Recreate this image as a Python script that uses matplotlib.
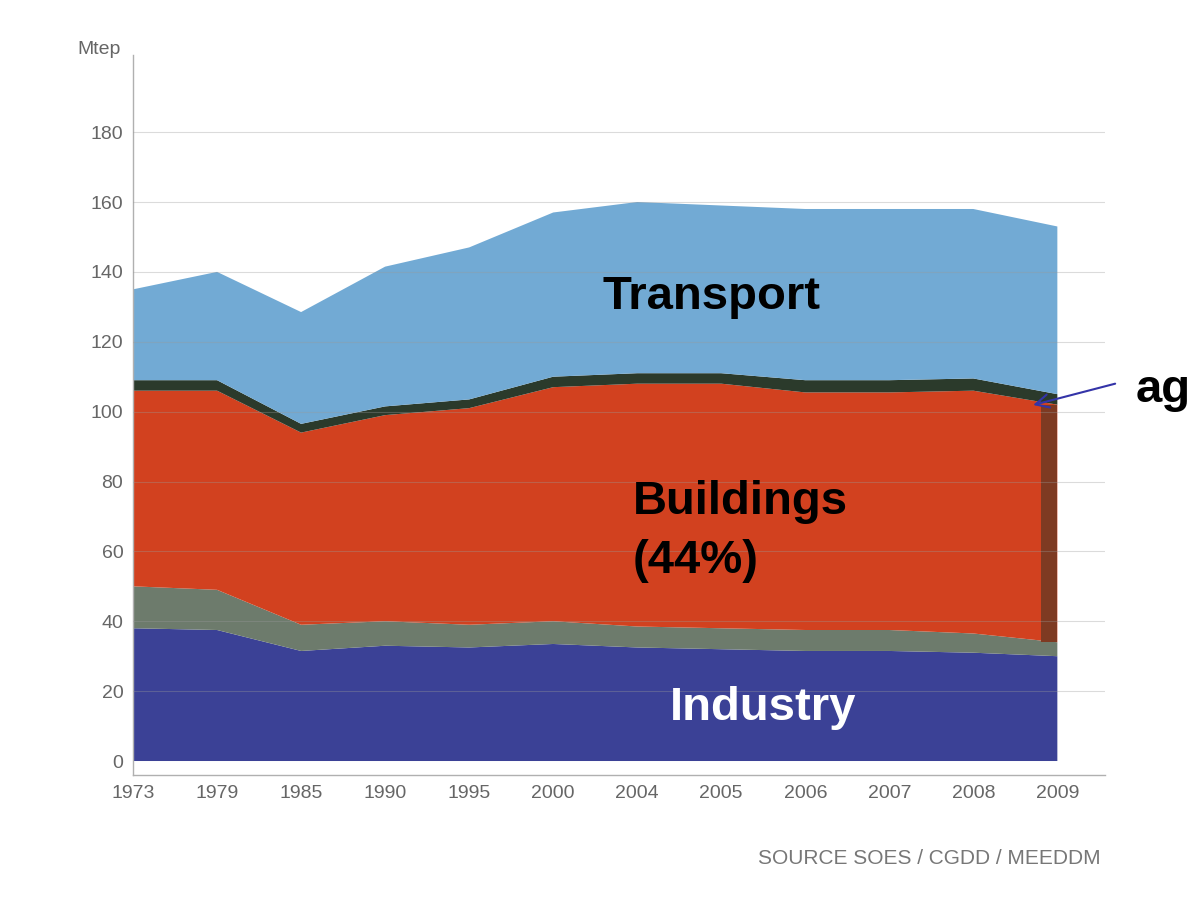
import matplotlib
matplotlib.use("Agg")
import matplotlib.pyplot as plt
import numpy as np

# Final energy consumption by sector, France (Mtep)
years = ['1973', '1979', '1985', '1990', '1995', '2000', '2004', '2005',
         '2006', '2007', '2008', '2009']
industry = [38, 37.5, 31.5, 33, 32.5, 33.5, 32.5, 32, 31.5, 31.5, 31, 30]
other = [12, 11.5, 7.5, 7, 6.5, 6.5, 6, 6, 6, 6, 5.5, 4]
buildings = [56, 57, 55, 59, 62, 67, 69.5, 70, 68, 68, 69.5, 68]
agriculture = [3, 3, 2.5, 2.5, 2.5, 3, 3, 3, 3.5, 3.5, 3.5, 3]
transport = [26, 31, 32, 40, 43.5, 47, 49, 48, 49, 49, 48.5, 48]

yticks = [0, 20, 40, 60, 80, 100, 120, 140, 160, 180]

colors = ['#3b4196', '#6d7b6c', '#d2411f', '#2b3a2b', '#72aad4']
small_font = ['Liberation Sans', 'DejaVu Sans']


def main():
    fig = plt.figure(figsize=(11.91, 9.06), dpi=100)
    ax = fig.add_axes([0.1117, 0.1446, 0.8163, 0.7944])

    x = np.arange(len(years))
    ax.stackplot(x, industry, other, buildings, agriculture, transport,
                 colors=colors, linewidth=0, zorder=2)

    # darker strip on the last buildings segment
    base = np.array(industry) + np.array(other)
    top = base + np.array(buildings)
    ax.fill_between([x[-1] - 0.2, x[-1]], [base[-1], base[-1]],
                    [top[-1], top[-1]], color='#7e3a22', linewidth=0, zorder=3)

    # faint grid lines
    for v in yticks[1:]:
        ax.axhline(v, color='#9a9a9a', linewidth=0.8, alpha=0.35, zorder=4)

    ax.set_xlim(0, 11.57)
    ax.set_ylim(-4, 202)
    ax.set_xticks(x)
    ax.set_xticklabels(years)
    ax.set_yticks(yticks)
    for side in ['top', 'right']:
        ax.spines[side].set_visible(False)
    for side in ['left', 'bottom']:
        ax.spines[side].set_color('#b0b0b0')
        ax.spines[side].set_linewidth(1)
    ax.tick_params(length=0, labelsize=14, colors='#666666', pad=7)
    for lab in ax.get_xticklabels() + ax.get_yticklabels():
        lab.set_family(small_font)

    fig.text(0.065, 0.94, 'Mtep', fontsize=14, color='#666666',
             family=small_font)

    ax.text(6.89, 132.7, 'Transport', fontsize=34, fontweight='bold',
            color='black', ha='center', va='center', zorder=5,
            family='Liberation Sans')
    ax.text(5.95, 65.6, 'Buildings\n(44%)', fontsize=34, fontweight='bold',
            color='black', ha='left', va='center', linespacing=1.45,
            zorder=5, family='Liberation Sans')
    ax.text(7.5, 15.2, 'Industry', fontsize=34, fontweight='bold',
            color='white', ha='center', va='center', zorder=5,
            family='Liberation Sans')

    # label cut by the right edge in the original; keep the visible part
    fig.text(0.9995, 0.569, 'ag', fontsize=34, fontweight='bold',
             color='black', ha='right', va='center', family='Liberation Sans')
    ax.annotate('', xy=(10.68, 101.7), xytext=(11.72, 108.2),
                xycoords='data', textcoords='data', annotation_clip=False,
                arrowprops=dict(arrowstyle='->', color='#3434a8', lw=1.5,
                                mutation_scale=24), zorder=6)

    fig.text(0.924, 0.052, 'SOURCE SOES / CGDD / MEEDDM', fontsize=15,
             color='#777777', ha='right', va='center', family=small_font)

    fig.savefig('out.png', dpi=100)


if __name__ == "__main__":
    main()
